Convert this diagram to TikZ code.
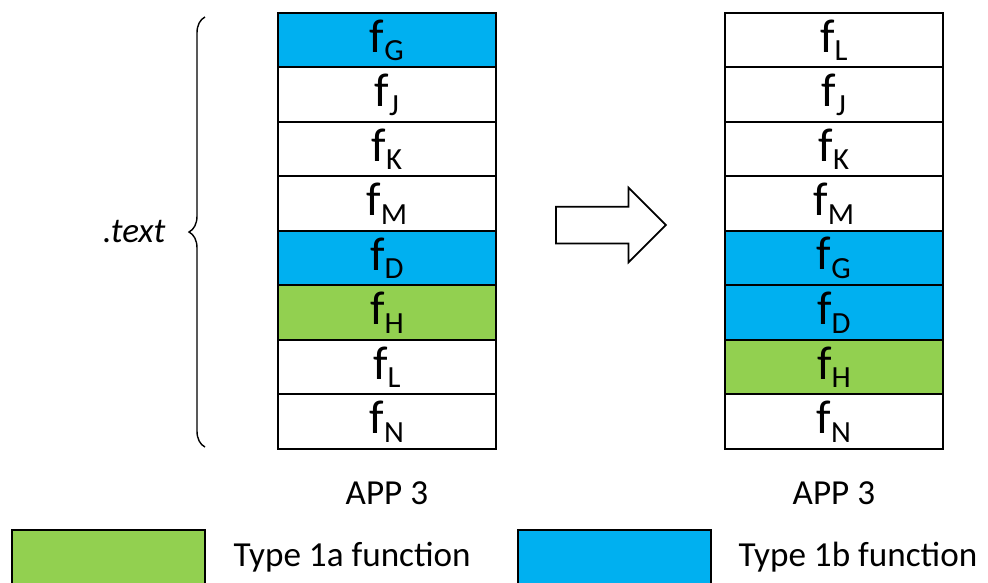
\documentclass[tikz,border=0pt]{standalone}
\usepackage{fontspec}
\setmainfont{Carlito}
\definecolor{FnBlue}{HTML}{00B0F0}
\definecolor{FnGreen}{HTML}{92D050}
\usetikzlibrary{positioning,shapes.arrows,matrix,decorations.pathreplacing}
\newcommand{\fsub}[1]{f\raisebox{-0.18em}{\fontsize{17.5}{18}\selectfont #1}}

\begin{document}
\begin{tikzpicture}[x=0.02cm, y=-0.02cm, line width=1pt, font=\fontsize{20}{24}\selectfont,
    stack/.style={matrix of nodes, row sep=-\pgflinewidth, anchor=north west, inner sep=0pt, outer sep=0pt,
      nodes={draw, fill=white, outer sep=0pt, inner sep=0pt, minimum width=4.36cm,
        minimum height=1.09cm, font=\fontsize{27}{30}\selectfont}},
    key/.style={draw, outer sep=0pt, minimum width=3.86cm, minimum height=1.1cm, anchor=north west}]
  \useasboundingbox (0,0) rectangle (988,582);
  % section before
  \matrix[stack] (appold) at (277,12) {
    |[fill=FnBlue]| \fsub{G} \\
    \fsub{J} \\
    \fsub{K} \\
    \fsub{M} \\
    |[fill=FnBlue]| \fsub{D} \\
    |[fill=FnGreen]| \fsub{H} \\
    \fsub{L} \\
    \fsub{N} \\
  };
  % section after
  \matrix[stack] (appnew) at (724,12) {
    \fsub{L} \\
    \fsub{J} \\
    \fsub{K} \\
    \fsub{M} \\
    |[fill=FnBlue]| \fsub{G} \\
    |[fill=FnBlue]| \fsub{D} \\
    |[fill=FnGreen]| \fsub{H} \\
    \fsub{N} \\
  };
  \node[below=0.5cm of appold] (oldlabel) {APP 3};
  \node[below=0.5cm of appnew] (newlabel) {APP 3};
  % brace
  \coordinate (bracebot) at (205,447);
  \coordinate (bracetop) at (205,17);
  \draw[line width=0.8pt, decorate, decoration={brace, amplitude=0.32cm}]
    (bracebot) -- node[left=0.66cm] (textlabel) {\itshape .text} (bracetop);
  % reorder arrow
  \node[single arrow, draw, minimum height=2.2cm, inner xsep=0pt, inner ysep=0.35cm,
    single arrow head extend=0.38cm, single arrow tip angle=90, outer sep=0pt,
    anchor=tail] (shift) at (556,225) {};
  % legend
  \node[key, fill=FnGreen] (key1a) at (12,530) {};
  \node[right=0.44cm of key1a] (text1a) {Type 1a function};
  \node[key, fill=FnBlue] (key1b) at (518,530) {};
  \node[right=0.42cm of key1b] (text1b) {Type 1b function};
\end{tikzpicture}
\end{document}
